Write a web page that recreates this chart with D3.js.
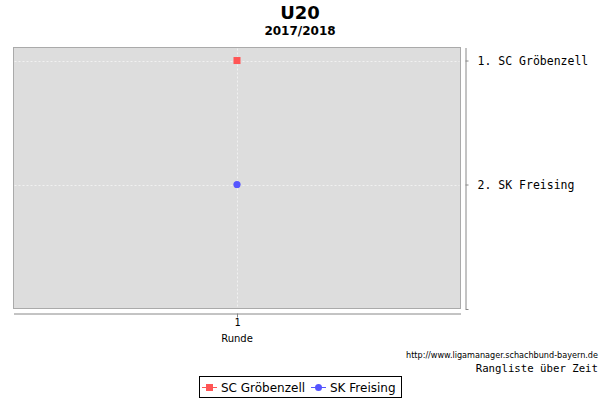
<!DOCTYPE html>
<html><head><meta charset="utf-8">
<script src="https://cdn.jsdelivr.net/npm/d3@7"></script>
<style>body{margin:0;background:#fff}svg{display:block}</style>
</head><body>
<svg id="c" width="600" height="400"></svg>
<script>
const rounds = [1];
const teams = ["SC Gröbenzell", "SK Freising"];
const rankSC = [1];
const rankSK = [2];
const rankLabels = ["1. SC Gröbenzell", "2. SK Freising"];
const colors = ["#ff5555", "#5555ff"];

const svg = d3.select("#c");
const L = 13.5, R = 460.5, T = 47.5, B = 308.5;
const x = d3.scaleLinear().domain([0, 2]).range([L, R]);
const y = d3.scaleLinear().domain([0.895, 3]).range([T, B]);

svg.append("text").attr("x", 300).attr("y", 19).attr("text-anchor", "middle")
  .attr("font-family", "DejaVu Sans").attr("font-weight", "bold").attr("font-size", 18).text("U20");
svg.append("text").attr("x", 300).attr("y", 35).attr("text-anchor", "middle")
  .attr("font-family", "DejaVu Sans").attr("font-weight", "bold").attr("font-size", 12).text("2017/2018");

svg.append("rect").attr("x", L).attr("y", T).attr("width", R - L).attr("height", B - T)
  .attr("fill", "#dddddd").attr("stroke", "#aaaaaa").attr("stroke-width", 1);

// gridlines
const g = svg.append("g");
[1, 2].forEach(r => g.append("line").attr("x1", L + 1).attr("x2", R - 1).attr("y1", Math.round(y(r)) + 0.5).attr("y2", Math.round(y(r)) + 0.5)
  .attr("stroke", "#ffffff").attr("stroke-dasharray", "2,2").attr("stroke-width", 1).attr("opacity", 0.6));
rounds.forEach(r => g.append("line").attr("y1", T + 1).attr("y2", B - 1).attr("x1", Math.round(x(r)) + 0.5).attr("x2", Math.round(x(r)) + 0.5)
  .attr("stroke", "#ffffff").attr("stroke-dasharray", "2,2").attr("stroke-width", 1).attr("opacity", 0.6));

// bottom axis
const xAxis = d3.axisBottom(x).tickValues(rounds).tickFormat(d3.format("d")).tickSize(4).tickSizeOuter(0);
const gx = svg.append("g").attr("transform", "translate(0,313.5)").call(xAxis);
gx.select(".domain").attr("stroke", "#888888");
gx.selectAll(".tick line").attr("stroke", "#888888");
gx.selectAll(".tick text").attr("font-family", "DejaVu Sans Mono").attr("font-size", 10).attr("fill", "#000").attr("y", 5).attr("dy", "0.71em");
svg.append("text").attr("x", x(1)).attr("y", 342).attr("text-anchor", "middle")
  .attr("font-family", "DejaVu Sans").attr("font-size", 10).text("Runde");

// right axis
const yAxis = d3.axisRight(y).tickValues([1, 2]).tickFormat((d, i) => rankLabels[i]).tickSize(3).tickSizeOuter(0);
const gy = svg.append("g").attr("transform", "translate(465.5,0)").call(yAxis);
gy.select(".domain").attr("stroke", "#888888");
gy.selectAll(".tick line").attr("stroke", "#888888");
gy.selectAll(".tick text").attr("font-family", "DejaVu Sans Mono").attr("font-size", 11.5).attr("fill", "#000").attr("x", 12);
gy.append("line").attr("x1", 0).attr("x2", 3).attr("y1", B + 1).attr("y2", B + 1).attr("stroke", "#888888");

// points
svg.selectAll(".sq").data(rounds.map((r, i) => [r, rankSC[i]])).enter().append("rect")
  .attr("x", d => x(d[0]) - 3.5).attr("y", d => y(d[1]) - 3.5).attr("width", 7).attr("height", 7).attr("fill", colors[0]);
svg.selectAll(".ci").data(rounds.map((r, i) => [r, rankSK[i]])).enter().append("circle")
  .attr("cx", d => x(d[0])).attr("cy", d => y(d[1])).attr("r", 3.6).attr("fill", colors[1]);

// footer
svg.append("text").attr("x", 598).attr("y", 358).attr("text-anchor", "end")
  .attr("font-family", "DejaVu Sans Condensed, DejaVu Sans").attr("font-size", 9).attr("textLength", 192).text("http://www.ligamanager.schachbund-bayern.de");
svg.append("text").attr("x", 598).attr("y", 372).attr("text-anchor", "end")
  .attr("font-family", "DejaVu Sans Mono").attr("font-size", 10.7).text("Rangliste über Zeit");

// legend
const lg = svg.append("g");
lg.append("rect").attr("x", 199.5).attr("y", 376.5).attr("width", 202).attr("height", 21).attr("fill", "#fff").attr("stroke", "#000");
lg.append("line").attr("x1", 202).attr("x2", 217).attr("y1", 387.5).attr("y2", 387.5).attr("stroke", colors[0]);
lg.append("rect").attr("x", 206).attr("y", 384).attr("width", 7).attr("height", 7).attr("fill", colors[0]);
lg.append("text").attr("x", 221).attr("y", 392).attr("font-family", "DejaVu Sans").attr("font-size", 12).text(teams[0]);
lg.append("line").attr("x1", 311).attr("x2", 326).attr("y1", 387.5).attr("y2", 387.5).attr("stroke", colors[1]);
lg.append("circle").attr("cx", 318.5).attr("cy", 387.5).attr("r", 3.5).attr("fill", colors[1]);
lg.append("text").attr("x", 330).attr("y", 392).attr("font-family", "DejaVu Sans").attr("font-size", 12).text(teams[1]);
</script>
</body></html>
